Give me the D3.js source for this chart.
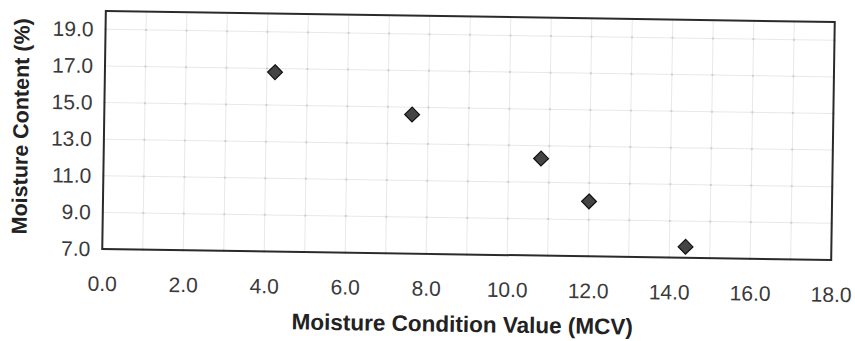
<!DOCTYPE html>
<html>
<head>
<meta charset="utf-8">
<script src="https://cdn.jsdelivr.net/npm/d3@7"></script>
<style>
  html, body { margin: 0; padding: 0; background: #fff; }
  svg { display: block; }
</style>
</head>
<body>
<svg id="chart" width="855" height="341"></svg>
<script>
// Data
const mcv = [4.2, 7.6, 10.8, 12.0, 14.4];
const moisture = [16.8, 14.6, 12.3, 10.0, 7.6];
const xTickValues = [0, 2, 4, 6, 8, 10, 12, 14, 16, 18];
const yTickValues = [7, 9, 11, 13, 15, 17, 19];
const xGridValues = d3.range(0, 19, 1);
const xTitle = "Moisture Condition Value (MCV)";
const yTitle = "Moisture Content (%)";

const W = 855, H = 341;
const box = { left: 104, right: 833, top: 16.5, bottom: 254.5 };
const cx = (box.left + box.right) / 2, cy = (box.top + box.bottom) / 2;

const svg = d3.select("#chart");
svg.append("rect").attr("width", W).attr("height", H).attr("fill", "#fff");

// slight scan skew
const g = svg.append("g").attr("transform", `rotate(0.86, ${cx}, ${cy})`);

const x = d3.scaleLinear().domain([0, 18]).range([box.left, box.right]);
const y = d3.scaleLinear().domain([7, 20]).range([box.bottom, box.top]);

// grid
g.append("g").selectAll("line.vg").data(xGridValues).join("line")
  .attr("x1", d => x(d)).attr("x2", d => x(d))
  .attr("y1", box.top).attr("y2", box.bottom)
  .attr("stroke", "#e8e8e8").attr("stroke-width", 1);
g.append("g").selectAll("line.hg").data(yTickValues).join("line")
  .attr("x1", box.left).attr("x2", box.right)
  .attr("y1", d => y(d)).attr("y2", d => y(d))
  .attr("stroke", "#e8e8e8").attr("stroke-width", 1);

// intersection dots
const inter = [];
xGridValues.forEach(a => yTickValues.forEach(b => inter.push([a, b])));
g.append("g").selectAll("rect").data(inter).join("rect")
  .attr("x", d => x(d[0]) - 1).attr("y", d => y(d[1]) - 1)
  .attr("width", 2).attr("height", 2).attr("fill", "#cfcfcf");

// axes (labels only)
const xAxis = d3.axisBottom(x).tickValues(xTickValues).tickFormat(d3.format(".1f")).tickSize(0).tickPadding(27);
const yAxis = d3.axisLeft(y).tickValues(yTickValues).tickFormat(d3.format(".1f")).tickSize(0).tickPadding(12);

const xg = g.append("g").attr("transform", `translate(0,${box.bottom})`).call(xAxis);
const yg = g.append("g").attr("transform", `translate(${box.left},0)`).call(yAxis);
[xg, yg].forEach(a => {
  a.select(".domain").remove();
  a.selectAll("text").attr("font-family", "Liberation Sans, Arial, sans-serif")
    .attr("font-size", 21).attr("fill", "#3a3a3a");
});

// border
g.append("rect")
  .attr("x", box.left).attr("y", box.top)
  .attr("width", box.right - box.left).attr("height", box.bottom - box.top)
  .attr("fill", "none").attr("stroke", "#2a2a2a").attr("stroke-width", 2);

// points
g.append("g").selectAll("path").data(mcv.map((v, i) => [v, moisture[i]])).join("path")
  .attr("d", d3.symbol().type(d3.symbolDiamond2).size(140))
  .attr("transform", d => `translate(${x(d[0])},${y(d[1])})`)
  .attr("fill", "#444").attr("stroke", "#111").attr("stroke-width", 1.2);

// titles
g.append("text")
  .attr("x", 465).attr("y", 332)
  .attr("text-anchor", "middle")
  .attr("font-family", "Liberation Sans, Arial, sans-serif")
  .attr("font-weight", "bold").attr("font-size", 22.5).attr("fill", "#222")
  .text(xTitle);
g.append("text")
  .attr("transform", `translate(28,133) rotate(-90)`)
  .attr("text-anchor", "middle")
  .attr("font-family", "Liberation Sans, Arial, sans-serif")
  .attr("font-weight", "bold").attr("font-size", 21.5).attr("fill", "#222")
  .text(yTitle);
</script>
</body>
</html>
